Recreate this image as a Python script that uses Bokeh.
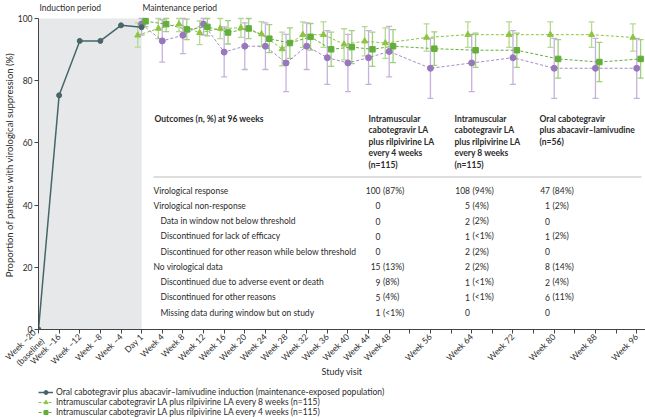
import numpy as np
from bokeh.plotting import figure
from bokeh.layouts import column
from bokeh.models import (ColumnDataSource, FixedTicker, Whisker, TeeHead, BoxAnnotation,
                          Label, Legend, LegendItem, Range1d)
from bokeh.embed import file_html
from bokeh.resources import INLINE

FONT = "Lato"

# ---------------- data ----------------
induction_weeks = [-20, -16, -12, -8, -4, 0]
induction_pct = [0.0, 75.3, 92.8, 92.8, 97.8, 97.2]

visit_weeks = [0, 4, 8, 12, 16, 20, 24, 28, 32, 36, 40, 44, 48, 56, 64, 72, 80, 88, 96]

q8w_pct = [94.6, 96.8, 98.2, 95.4, 96.8, 97.0, 95.0, 90.2, 94.8, 94.8, 91.7, 92.7, 92.1,
           93.9, 94.8, 94.8, 94.8, 94.8, 93.9]
q8w_lo = [90.8, 93.5, 95.8, 91.6, 93.5, 93.9, 91.0, 84.8, 90.7, 90.7, 86.7, 88.0, 87.2,
          89.5, 90.7, 90.7, 90.7, 90.7, 89.5]
q8w_hi = [98.6, 100.0, 100.0, 99.2, 100.0, 100.0, 99.0, 95.6, 98.9, 98.9, 96.7, 97.4, 97.0,
          98.3, 98.9, 98.9, 98.9, 98.9, 98.3]

q4w_pct = [99.1, 98.2, 96.5, 97.3, 95.5, 96.8, 93.5, 92.1, 94.1, 90.1, 90.8, 90.1, 91.1,
           90.3, 89.8, 89.8, 87.0, 86.0, 87.0]
q4w_lo = [97.4, 95.8, 93.2, 94.4, 91.8, 93.5, 89.0, 87.2, 89.8, 84.6, 85.5, 84.6, 85.8,
          84.9, 84.3, 84.3, 80.8, 79.7, 80.8]
q4w_hi = [100.0, 100.0, 99.8, 100.0, 99.3, 100.0, 98.0, 97.0, 98.4, 95.6, 96.1, 95.6, 96.4,
          95.7, 95.3, 95.3, 93.2, 92.3, 93.2]

oral_pct = [98.2, 92.8, 94.6, 98.2, 89.2, 91.1, 91.1, 85.7, 91.1, 87.4, 85.7, 87.4, 89.4,
            84.0, 85.7, 87.4, 84.0, 84.0, 84.0]
oral_lo = [94.7, 86.0, 88.7, 94.7, 81.2, 83.6, 83.6, 76.5, 83.6, 78.8, 76.5, 78.8, 81.2,
           74.3, 76.5, 78.8, 74.3, 74.3, 74.3]
oral_hi = [100.0, 99.6, 100.0, 100.0, 97.3, 98.6, 98.6, 94.9, 98.6, 96.1, 94.9, 96.1, 97.5,
           93.6, 94.9, 96.1, 93.6, 93.6, 93.6]

tick_weeks = [-20, -16, -12, -8, -4, 0, 4, 8, 12, 16, 20, 24, 28, 32, 36, 40, 44, 48,
              52, 56, 60, 64, 68, 72, 76, 80, 84, 88, 92, 96]
tick_labels = ["Week \u201320\n(baseline)", "Week \u201316", "Week \u201312", "Week \u20138",
               "Week \u20134", "Day 1", "Week 4", "Week 8", "Week 12", "Week 16", "Week 20",
               "Week 24", "Week 28", "Week 32", "Week 36", "Week 40", "Week 44", "Week 48",
               "", "Week 56", "", "Week 64", "", "Week 72", "", "Week 80", "", "Week 88",
               "", "Week 96"]
y_ticks = [0, 20, 40, 60, 80, 100]

legend_labels = [
    "Oral cabotegravir plus abacavir\u2013lamivudine induction (maintenance-exposed population)",
    "Intramuscular cabotegravir LA plus rilpivirine LA every 8 weeks (n=115)",
    "Intramuscular cabotegravir LA plus rilpivirine LA every 4 weeks (n=115)",
]

table_title = "Outcomes (n, %) at 96 weeks"
col_headers = [
    ["Intramuscular", "cabotegravir LA", "plus rilpivirine LA", "every 4 weeks", "(n=115)"],
    ["Intramuscular", "cabotegravir LA", "plus rilpivirine LA", "every 8 weeks", "(n=115)"],
    ["Oral cabotegravir", "plus abacavir\u2013lamivudine", "(n=56)"],
]
row_labels = ["Virological response", "Virological non-response",
              "Data in window not below threshold", "Discontinued for lack of efficacy",
              "Discontinued for other reason while below threshold", "No virological data",
              "Discontinued due to adverse event or death", "Discontinued for other reasons",
              "Missing data during window but on study"]
row_indent = [0, 0, 1, 1, 1, 0, 1, 1, 1]
q4w_n = ["100", "0", "0", "0", "0", "15", "9", "5", "1"]
q4w_p = ["(87%)", "", "", "", "", "(13%)", "(8%)", "(4%)", "(<1%)"]
q8w_n = ["108", "5", "2", "1", "2", "2", "1", "1", "0"]
q8w_p = ["(94%)", "(4%)", "(2%)", "(<1%)", "(2%)", "(2%)", "(<1%)", "(<1%)", ""]
oral_n = ["47", "1", "0", "1", "0", "8", "2", "6", "0"]
oral_p = ["(84%)", "(2%)", "", "(2%)", "", "(14%)", "(4%)", "(11%)", ""]

# ---------------- styling ----------------
C_IND = "#46666a"
C_Q8 = "#8cc540"
C_Q8_ERR = "#b5da92"
C_Q4 = "#62ae3a"
C_Q4_ERR = "#9fd07f"
C_OR = "#9877bd"
C_OR_ERR = "#c6b1dc"
TXT = "#2b2b2b"
DODGE = 0.75

FL, FB = 37, 329  # frame left / bottom in page pixels
MAIN_H = 381
LEG_H = 417 - MAIN_H
Y_TOP = 100 * FB / 311.0  # frame reaches the top of the page; 100 sits 18 px below it

p = figure(width=645, height=MAIN_H, x_range=Range1d(-20, 97.7), y_range=Range1d(0, Y_TOP),
           output_backend="svg", toolbar_location=None,
           min_border_left=FL, min_border_right=0, min_border_top=0,
           min_border_bottom=MAIN_H - FB)
p.outline_line_color = None
p.xgrid.visible = False
p.ygrid.visible = False

shade = BoxAnnotation(left=induction_weeks[0], right=induction_weeks[-1], bottom=0, top=100,
                      fill_color="#e6e8ea", fill_alpha=1.0, line_color=None, level="underlay")
p.add_layout(shade)

wk = np.array(visit_weeks, dtype=float)
src = ColumnDataSource(dict(
    x8=wk - DODGE, x4=wk + DODGE, xo=wk,
    q8=q8w_pct, q8lo=q8w_lo, q8hi=q8w_hi,
    q4=q4w_pct, q4lo=q4w_lo, q4hi=q4w_hi,
    oo=oral_pct, oolo=oral_lo, oohi=oral_hi,
))

for xcol, lo, hi, col in [("xo", "oolo", "oohi", C_OR_ERR), ("x8", "q8lo", "q8hi", C_Q8_ERR),
                          ("x4", "q4lo", "q4hi", C_Q4_ERR)]:
    w = Whisker(source=src, base=xcol, lower=lo, upper=hi, dimension="height",
                line_color=col, line_width=1.3, level="underlay",
                upper_head=TeeHead(size=6, line_color=col, line_width=1.3),
                lower_head=TeeHead(size=6, line_color=col, line_width=1.3))
    p.add_layout(w)

LINE_STYLES = dict(
    oral=dict(line_color=C_OR, line_dash="3 2", line_width=1, line_alpha=0.85),
    q8=dict(line_color=C_Q8, line_dash="3 2", line_width=1),
    q4=dict(line_color=C_Q4, line_dash="3 2", line_width=1),
    ind=dict(line_color=C_IND, line_width=1.5),
)
MARK_STYLES = dict(
    oral=dict(marker="circle", size=6, fill_color=C_OR, line_color=C_OR),
    q8=dict(marker="triangle", size=6, fill_color=C_Q8, line_color=C_Q8),
    q4=dict(marker="square", size=5.5, fill_color=C_Q4, line_color=C_Q4),
    ind=dict(marker="circle", size=5, fill_color=C_IND, line_color=C_IND),
)

p.line("xo", "oo", source=src, **LINE_STYLES["oral"])
p.line("x8", "q8", source=src, **LINE_STYLES["q8"])
p.line("x4", "q4", source=src, **LINE_STYLES["q4"])
p.scatter("xo", "oo", source=src, **MARK_STYLES["oral"])
p.scatter("x8", "q8", source=src, **MARK_STYLES["q8"])
p.scatter("x4", "q4", source=src, **MARK_STYLES["q4"])

ind_src = ColumnDataSource(dict(x=induction_weeks, y=induction_pct))
p.line("x", "y", source=ind_src, **LINE_STYLES["ind"])
p.scatter("x", "y", source=ind_src, **MARK_STYLES["ind"])

# axes
p.xaxis.ticker = FixedTicker(ticks=tick_weeks)
p.xaxis.major_label_overrides = {t: l for t, l in zip(tick_weeks, tick_labels)}
p.xaxis.major_label_orientation = np.pi / 4
p.yaxis.ticker = FixedTicker(ticks=y_ticks)
p.yaxis.bounds = (0, 100)
for ax in (p.xaxis[0], p.yaxis[0]):
    ax.minor_tick_line_color = None
    ax.major_tick_in = 0
    ax.major_tick_out = 4
    ax.axis_line_color = "#444444"
    ax.major_tick_line_color = "#444444"
    ax.major_label_text_font = FONT
    ax.major_label_text_font_size = "8.5px"
    ax.major_label_text_color = TXT
    ax.axis_label_text_font = FONT
    ax.axis_label_text_font_style = "normal"
    ax.axis_label_text_color = TXT
    ax.major_label_standoff = 2
p.xaxis.axis_label = "Study visit"
p.xaxis.axis_label_text_font_size = "9px"
p.xaxis.axis_label_standoff = -15
p.yaxis.axis_label = "Proportion of patients with virological suppression (%)"
p.yaxis.axis_label_text_font_size = "9.5px"
p.yaxis.axis_label_standoff = 0


def lab(px, py, text, bold=False, align="left", size="8.5px"):
    p.add_layout(Label(x=px - FL, y=FB - py, x_units="screen", y_units="screen", text=text,
                       text_font=FONT, text_font_size=size,
                       text_font_style="bold" if bold else "normal",
                       text_align=align, text_baseline="middle", text_color=TXT))


lab(38, 7, "Induction period")
lab(141, 7, "Maintenance period")

# table
lab(153, 118, table_title, bold=True)
col_x = [367, 453, 538]
for cx, lines in zip(col_x, col_headers):
    for i, t in enumerate(lines):
        lab(cx, 118 + i * 11.5, t, bold=True)

rule = BoxAnnotation(left=152 - FL, right=640 - FL, top=FB - 176, bottom=FB - 177,
                     left_units="screen", right_units="screen", top_units="screen",
                     bottom_units="screen", fill_color="#555555", line_color=None)
p.add_layout(rule)

num_right = [379, 468.5, 548.5]
row_y0, row_dy = 190, 15.25
for i, t in enumerate(row_labels):
    y = row_y0 + i * row_dy
    lab(152 + 7 * row_indent[i], y, t)
    for cr, ns, ps in zip(num_right, (q4w_n, q8w_n, oral_n), (q4w_p, q8w_p, oral_p)):
        lab(cr, y, ns[i], align="right")
        if ps[i]:
            lab(cr + 2.5, y, ps[i])

# ---------------- legend strip below ----------------
p2 = figure(width=645, height=LEG_H, x_range=Range1d(0, 1), y_range=Range1d(0, 1),
            output_backend="svg", toolbar_location=None, min_border=0,
            x_axis_location=None, y_axis_location=None)
p2.outline_line_color = None
p2.grid.visible = False
items = []
for key, label in zip(["ind", "q8", "q4"], legend_labels):
    offscreen = ColumnDataSource(dict(x=[-5.0, -4.0], y=[-5.0, -5.0]))
    r1 = p2.line("x", "y", source=offscreen, **LINE_STYLES[key])
    r2 = p2.scatter("x", "y", source=offscreen, **MARK_STYLES[key])
    items.append(LegendItem(label=label, renderers=[r1, r2], index=0))
legend = Legend(items=items, location=(0, 0))
legend.label_text_font = FONT
legend.label_text_font_size = "8.5px"
legend.label_text_color = TXT
legend.glyph_width = 15
legend.glyph_height = 10
legend.label_height = 10
legend.label_standoff = 3
legend.spacing = 0
legend.padding = 0
legend.margin = 0
legend.border_line_color = None
legend.background_fill_alpha = 0
p2.add_layout(legend)

layout = column(p, p2, spacing=0)
open("out.html", "w").write(file_html(layout, INLINE))
